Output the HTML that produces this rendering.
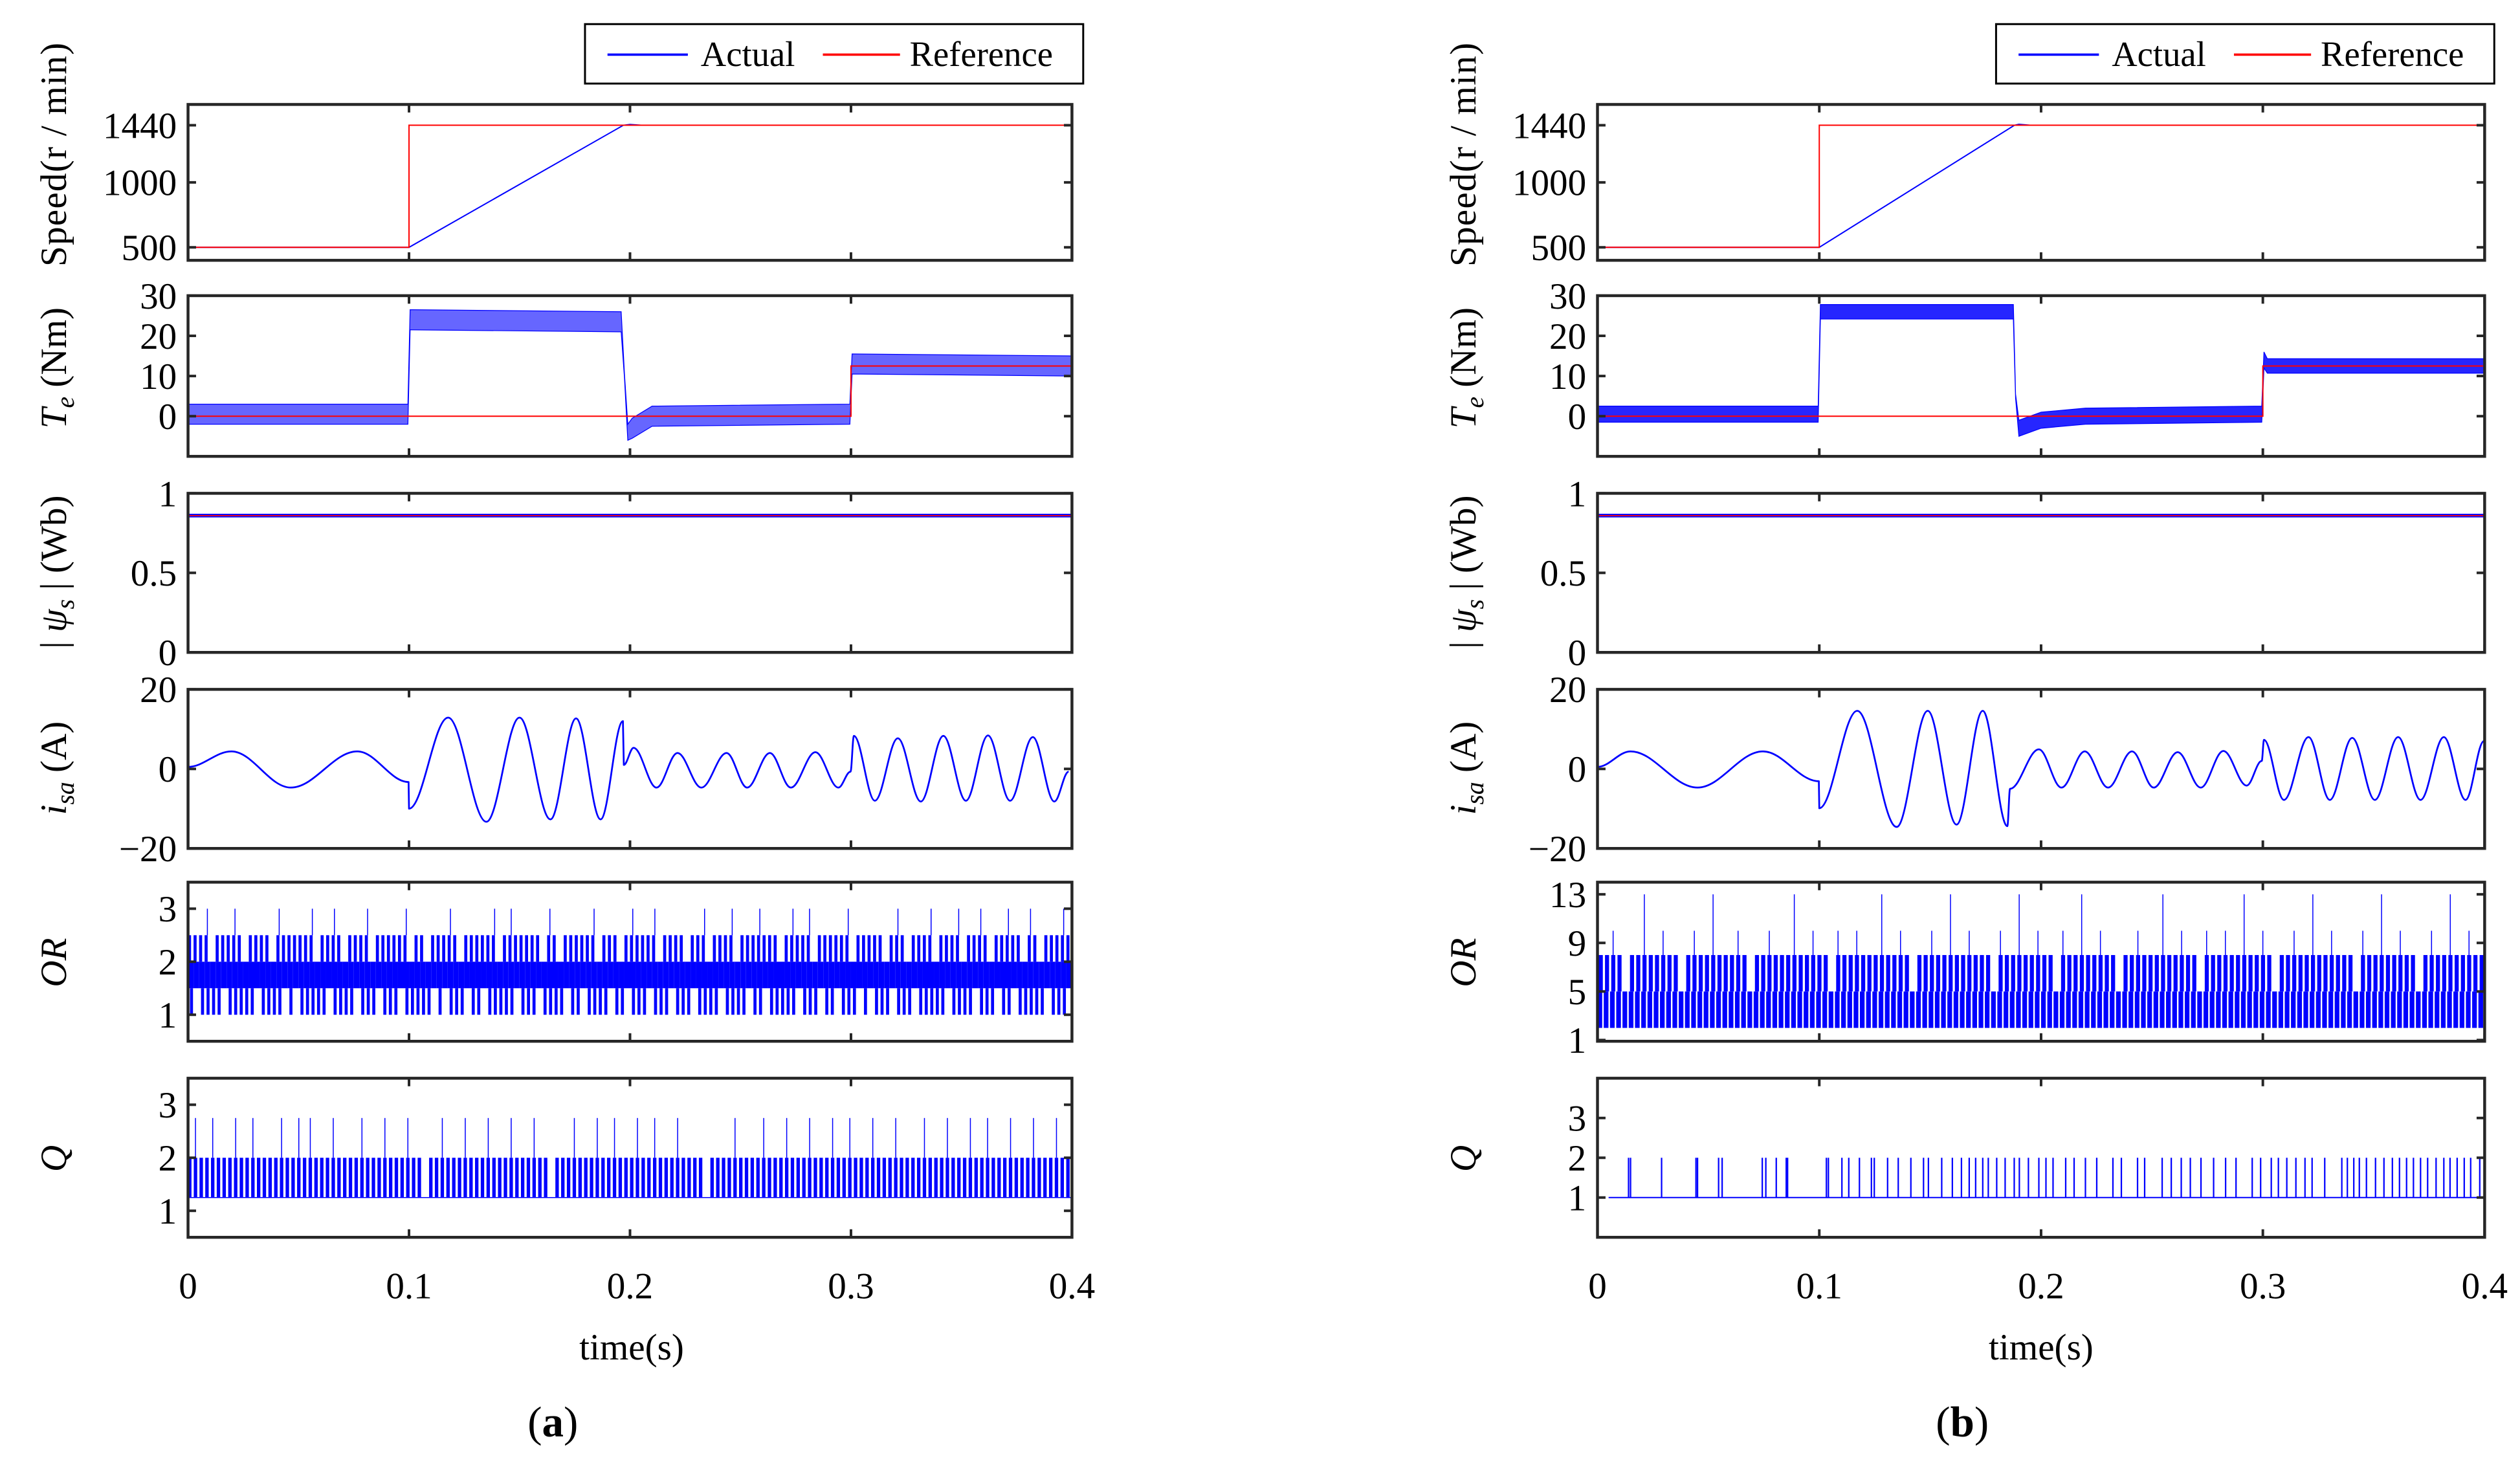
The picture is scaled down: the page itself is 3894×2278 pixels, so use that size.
<!DOCTYPE html>
<html><head><meta charset="utf-8">
<style>
html,body{margin:0;padding:0;background:#fff;}
svg{display:block;}
text{font-family:"Liberation Serif",serif;fill:#000;}
</style></head>
<body>
<svg id="fig" xmlns="http://www.w3.org/2000/svg" width="3894" height="2278" viewBox="0 0 1568 917.3" preserveAspectRatio="none">
<rect x="0" y="0" width="1568" height="917.3" fill="#fff"/>
<g>
<rect x="364" y="15" width="310" height="37" fill="#fff" stroke="#000" stroke-width="1.2"/>
<line x1="378" y1="34" x2="428" y2="34" stroke="#0000ff" stroke-width="1.5"/>
<text x="436" y="41" font-size="22">Actual</text>
<line x1="512" y1="34" x2="560" y2="34" stroke="#ff0000" stroke-width="1.5"/>
<text x="566" y="41" font-size="22">Reference</text>
</g>
<g>
<rect x="1242" y="15" width="310" height="37" fill="#fff" stroke="#000" stroke-width="1.2"/>
<line x1="1256" y1="34" x2="1306" y2="34" stroke="#0000ff" stroke-width="1.5"/>
<text x="1314" y="41" font-size="22">Actual</text>
<line x1="1390" y1="34" x2="1438" y2="34" stroke="#ff0000" stroke-width="1.5"/>
<text x="1444" y="41" font-size="22">Reference</text>
</g>
<g font-size="23">
<text transform="translate(41,96) rotate(-90)" text-anchor="middle" letter-spacing="0.5">Speed(r / min)</text>
<text transform="translate(41,229) rotate(-90)" text-anchor="middle"><tspan font-style="italic">T</tspan><tspan font-style="italic" font-size="16" dy="5">e</tspan><tspan dy="-5"> (Nm)</tspan></text>
<text transform="translate(41,356) rotate(-90)" text-anchor="middle"><tspan>| </tspan><tspan font-style="italic">ψ</tspan><tspan font-style="italic" font-size="16" dy="5">s</tspan><tspan dy="-5"> | (Wb)</tspan></text>
<text transform="translate(41,478) rotate(-90)" text-anchor="middle"><tspan font-style="italic">i</tspan><tspan font-style="italic" font-size="16" dy="5">sa</tspan><tspan dy="-5"> (A)</tspan></text>
<text transform="translate(41,599) rotate(-90)" text-anchor="middle" font-style="italic">OR</text>
<text transform="translate(41,721) rotate(-90)" text-anchor="middle" font-style="italic">Q</text>
</g>
<g font-size="23">
<text transform="translate(918,96) rotate(-90)" text-anchor="middle" letter-spacing="0.5">Speed(r / min)</text>
<text transform="translate(918,229) rotate(-90)" text-anchor="middle"><tspan font-style="italic">T</tspan><tspan font-style="italic" font-size="16" dy="5">e</tspan><tspan dy="-5"> (Nm)</tspan></text>
<text transform="translate(918,356) rotate(-90)" text-anchor="middle"><tspan>| </tspan><tspan font-style="italic">ψ</tspan><tspan font-style="italic" font-size="16" dy="5">s</tspan><tspan dy="-5"> | (Wb)</tspan></text>
<text transform="translate(918,478) rotate(-90)" text-anchor="middle"><tspan font-style="italic">i</tspan><tspan font-style="italic" font-size="16" dy="5">sa</tspan><tspan dy="-5"> (A)</tspan></text>
<text transform="translate(918,599) rotate(-90)" text-anchor="middle" font-style="italic">OR</text>
<text transform="translate(918,721) rotate(-90)" text-anchor="middle" font-style="italic">Q</text>
</g>
<text x="393" y="846" font-size="23" text-anchor="middle">time(s)</text>
<text x="1270" y="846" font-size="23" text-anchor="middle">time(s)</text>
<text x="344" y="894" font-size="27" text-anchor="middle">(<tspan font-weight="bold">a</tspan>)</text>
<text x="1221" y="894" font-size="27" text-anchor="middle">(<tspan font-weight="bold">b</tspan>)</text>
<g id="plots"></g>
</svg>
<script>
const xTicks = [0, 0.1, 0.2, 0.3, 0.4];
const xTickLabels = ["0", "0.1", "0.2", "0.3", "0.4"];
const speedTicks = [500, 1000, 1440];
const teTicks = [0, 10, 20, 30];
const fluxTicks = [0, 0.5, 1];
const fluxTickLabels = ["0", "0.5", "1"];
const isaTicks = [-20, 0, 20];
const isaTickLabels = ["\u221220", "0", "20"];
const orTicksA = [1, 2, 3];
const orTicksB = [1, 5, 9, 13];
const qTicks = [1, 2, 3];

const speedActT_a = [0, 0.1, 0.197, 0.2, 0.205, 0.4];
const speedActV_a = [500, 500, 1440, 1446, 1440, 1440];
const speedActT_b = [0, 0.1, 0.188, 0.19, 0.195, 0.4];
const speedActV_b = [500, 500, 1440, 1447, 1440, 1440];
const speedRefT = [0, 0.1, 0.1, 0.4];
const speedRefV = [500, 500, 1440, 1440];

const teT_a = [0, 0.0995, 0.1005, 0.196, 0.1975, 0.199, 0.201, 0.21, 0.2995, 0.3005, 0.4];
const teMean_a = [0.5, 0.5, 24, 23.5, 10, -4, -3, 0, 0.5, 13, 12.5];
const teHalf_a = [2.5, 2.5, 2.5, 2.5, 0.5, 2, 2.5, 2.5, 2.5, 2.5, 2.5];
const teT_b = [0, 0.0995, 0.1005, 0.1875, 0.1885, 0.19, 0.2, 0.22, 0.2995, 0.3005, 0.302, 0.4];
const teMean_b = [0.5, 0.5, 26, 26, 5, -3, -1, 0, 0.5, 14, 12.5, 12.5];
const teHalf_b = [2, 2, 1.8, 1.8, 0.5, 2, 2, 2, 2, 2, 1.8, 1.8];
const teRefT = [0, 0.3, 0.3, 0.4];
const teRefV = [0, 0, 12.5, 12.5];

const fluxT = [0, 0.4];
const fluxMean = [0.86, 0.86];
const fluxHalf = [0.009, 0.009];

const isaT_a = [0,0.0196,0.0465,0.0766,0.0998,0.1,0.1177,0.135,0.150,0.164,0.1756,0.1867,0.1968,0.1972,0.2016,0.212,0.2215,0.2323,0.2437,0.253,0.2633,0.2728,0.2839,0.2943,0.2998,0.3013,0.3108,0.3212,0.3316,0.3418,0.352,0.362,0.372,0.3823,0.392,0.3985];
const isaV_a = [0.5,4.4,-4.7,4.4,-3.3,-10,12.9,-13.3,12.9,-12.7,12.7,-12.7,12,1,5.3,-4.7,4,-4.7,4,-4.7,4,-4.7,4.2,-4.7,-0.7,8.3,-8,7.7,-8.2,8.3,-8,8.4,-8,8,-8.2,-0.7];
const isaT_b = [0,0.0149,0.0451,0.0746,0.0998,0.1,0.1171,0.1349,0.1489,0.1619,0.1737,0.1848,0.186,0.199,0.2092,0.2197,0.2302,0.241,0.2508,0.2616,0.272,0.2822,0.2927,0.2995,0.3005,0.3095,0.3206,0.3302,0.3403,0.3505,0.361,0.3711,0.3816,0.3914,0.3997];
const isaV_b = [0.5,4.4,-4.7,4.4,-3.1,-9.9,14.6,-14.6,14.6,-14,14.6,-14.4,-5,4.9,-4.7,4.4,-4.7,4.4,-4.7,4.2,-4.7,4.5,-4.2,2,7.3,-7.8,8,-7.8,7.8,-7.8,8,-7.8,8,-7.8,7];

const orCodes_a = "3134231343231332413133423143231342133314233213143213313423413331243213313423132143314231332134231342313413323413421331342131332143213342313423143213413243213341";
const qCodes_a = "1211211121121111211212111211112111211121101121112111211121112110111211121121112112111211110111121111211121112111211211121112111121112111211211121112111211";
const orCodes_b = "0020100300200102003000201002000300200120020003002010020030020001200300200120030020010020003002001200200300201002003002000120030020010200300200";
const qSpikes_b = [0.0140,0.0149,0.0289,0.0444,0.0451,0.0546,0.0562,0.0743,0.0759,0.0806,0.0851,0.0857,0.1032,0.1041,0.1102,0.1133,0.1181,0.1235,0.1248,0.1308,0.1356,0.1413,0.1470,0.1492,0.1552,0.1600,0.1641,0.1676,0.1705,0.1737,0.1762,0.1800,0.1838,0.1879,0.1902,0.1943,0.1990,0.2022,0.2054,0.2111,0.2149,0.2200,0.2251,0.2324,0.2362,0.2435,0.2467,0.2546,0.2587,0.2632,0.2673,0.2721,0.2778,0.2832,0.2879,0.2952,0.2990,0.3038,0.3070,0.3108,0.3149,0.3190,0.3222,0.3279,0.3356,0.3381,0.3410,0.3435,0.3467,0.3508,0.3546,0.3584,0.3616,0.3648,0.3679,0.3711,0.3743,0.3781,0.3816,0.3844,0.3876,0.3908,0.3937,0.3978];

const NS = "http://www.w3.org/2000/svg";
const root = document.getElementById("plots");
const BLUE = "#0000ff", RED = "#ff0000", AX = "#262626";

function add(parent, tag, attrs, name) {
  const el = document.createElementNS(NS, tag);
  for (const k in attrs) el.setAttribute(k, attrs[k]);
  
  
  parent.appendChild(el);
  return el;
}

const panels = { a: { x0: 117, x1: 667 }, b: { x0: 994, x1: 1546 } };
const rowBox = [[65,162],[184,284],[307,406],[429,528],[549,648],[671,770]];

function makeAxes(p, row, ymin, ymax) {
  const P = panels[p];
  return {
    sx: t => P.x0 + t / 0.4 * (P.x1 - P.x0),
    sy: v => rowBox[row][1] - (v - ymin) / (ymax - ymin) * (rowBox[row][1] - rowBox[row][0]),
    x0: P.x0, x1: P.x1, y0: rowBox[row][0], y1: rowBox[row][1]
  };
}

function frame(g, ax, yt, ylabels, showX, p) {
  for (let i = 0; i < yt.length; i++) {
    const y = ax.sy(yt[i]);
    add(g, "line", {x1: ax.x0, y1: y, x2: ax.x0 + 5, y2: y, stroke: AX, "stroke-width": 1.6}, "y-tick-left");
    add(g, "line", {x1: ax.x1, y1: y, x2: ax.x1 - 5, y2: y, stroke: AX, "stroke-width": 1.6}, "y-tick-right");
    const t = add(g, "text", {x: ax.x0 - 7, y: y + 8, "font-size": 23, "text-anchor": "end"}, "y-tick-label");
    t.textContent = ylabels[i];
  }
  for (let i = 0; i < xTicks.length; i++) {
    const x = ax.sx(xTicks[i]);
    add(g, "line", {x1: x, y1: ax.y0, x2: x, y2: ax.y0 + 5, stroke: AX, "stroke-width": 1.6}, "x-tick-top");
    add(g, "line", {x1: x, y1: ax.y1, x2: x, y2: ax.y1 - 5, stroke: AX, "stroke-width": 1.6}, "x-tick-bottom");
    if (showX) {
      const t = add(g, "text", {x: x, y: 808, "font-size": 23, "text-anchor": "middle"}, "x-tick-label");
      t.textContent = xTickLabels[i];
    }
  }
  add(g, "rect", {x: ax.x0, y: ax.y0, width: ax.x1 - ax.x0, height: ax.y1 - ax.y0, fill: "none", stroke: AX, "stroke-width": 1.8}, "axes-box-" + p);
}

function polyline(g, ax, T, V, color, w, name) {
  const pts = T.map((t, i) => ax.sx(t).toFixed(2) + "," + ax.sy(V[i]).toFixed(2)).join(" ");
  add(g, "polyline", {points: pts, fill: "none", stroke: color, "stroke-width": w}, name);
}

function band(g, ax, T, M, H, name, op) {
  const top = T.map((t, i) => ax.sx(t).toFixed(2) + "," + ax.sy(M[i] + H[i]).toFixed(2));
  const bot = T.map((t, i) => ax.sx(t).toFixed(2) + "," + ax.sy(M[i] - H[i]).toFixed(2)).reverse();
  add(g, "polygon", {points: top.concat(bot).join(" "), fill: BLUE, "fill-opacity": op, stroke: BLUE, "stroke-width": 0.5}, name);
}

function smooth(g, ax, T, V, name) {
  let d = "M" + ax.sx(T[0]).toFixed(2) + "," + ax.sy(V[0]).toFixed(2);
  for (let i = 1; i < T.length; i++) {
    const xa = ax.sx(T[i-1]), ya = ax.sy(V[i-1]), xb = ax.sx(T[i]), yb = ax.sy(V[i]);
    const dx = xb - xa;
    if (dx < 1.2) { d += " L" + xb.toFixed(2) + "," + yb.toFixed(2); continue; }
    d += " C" + (xa + dx * 0.36).toFixed(2) + "," + ya.toFixed(2) + " " + (xb - dx * 0.36).toFixed(2) + "," + yb.toFixed(2) + " " + xb.toFixed(2) + "," + yb.toFixed(2);
  }
  add(g, "path", {d: d, fill: "none", stroke: BLUE, "stroke-width": 1.1, "stroke-linejoin": "round"}, name);
}

function vrect(g, ax, xl, w, v1, v2, name) {
  const ya = ax.sy(v2), yb = ax.sy(v1);
  add(g, "rect", {x: xl.toFixed(2), y: ya.toFixed(2), width: w.toFixed(2), height: (yb - ya).toFixed(2), fill: BLUE}, name);
}
function vline(g, ax, x, v1, v2, name, w) {
  add(g, "line", {x1: x.toFixed(2), y1: ax.sy(v1).toFixed(2), x2: x.toFixed(2), y2: ax.sy(v2).toFixed(2), stroke: BLUE, "stroke-width": w || 0.6}, name);
}

function drawPanel(p) {
  const g = add(root, "g", {}, "panel-" + p);
  const isA = p === "a";
  let ax = makeAxes(p, 0, 400, 1600);
  let sg = add(g, "g", {}, "speed-plot-" + p);
  polyline(sg, ax, isA ? speedActT_a : speedActT_b, isA ? speedActV_a : speedActV_b, BLUE, 0.8, "speed-actual");
  polyline(sg, ax, speedRefT, speedRefV, RED, 0.8, "speed-reference");
  frame(sg, ax, speedTicks, speedTicks.map(String), false, p);

  ax = makeAxes(p, 1, -10, 30);
  sg = add(g, "g", {}, "torque-plot-" + p);
  if (isA) band(sg, ax, teT_a, teMean_a, teHalf_a, "torque-actual", 0.6);
  else band(sg, ax, teT_b, teMean_b, teHalf_b, "torque-actual", 0.85);
  polyline(sg, ax, teRefT, teRefV, RED, 0.8, "torque-reference");
  frame(sg, ax, teTicks, teTicks.map(String), false, p);

  ax = makeAxes(p, 2, 0, 1);
  sg = add(g, "g", {}, "flux-plot-" + p);
  band(sg, ax, fluxT, fluxMean, fluxHalf, "flux-actual", 0.9);
  polyline(sg, ax, fluxT, fluxMean, RED, 0.7, "flux-reference");
  frame(sg, ax, fluxTicks, fluxTickLabels, false, p);

  ax = makeAxes(p, 3, -20, 20);
  sg = add(g, "g", {}, "current-plot-" + p);
  smooth(sg, ax, isA ? isaT_a : isaT_b, isA ? isaV_a : isaV_b, "current-trace");
  frame(sg, ax, isaTicks, isaTickLabels, false, p);

  if (isA) {
    ax = makeAxes(p, 4, 0.5, 3.5);
    sg = add(g, "g", {}, "or-plot-a");
    const n = orCodes_a.length, bw = 0.4 / n;
    for (let i = 0; i < n; i++) {
      const c = +orCodes_a[i];
      const xl = ax.sx(i * bw), w = ax.sx((i + 1) * bw) - xl;
      vrect(sg, ax, xl, w, 1.5, 2, "or-core-bin");
      if (c === 1 || c >= 3) vrect(sg, ax, xl, w * 0.55, 2, 2.5, "or-up-bin");
      if (c >= 2) vrect(sg, ax, xl + w * 0.35, w * 0.55, 1, 1.5, "or-down-bin");
      if (c === 4) vline(sg, ax, xl + w * 0.5, 2.5, 3, "or-spike", 0.6);
    }
    frame(sg, ax, orTicksA, orTicksA.map(String), false, p);
  } else {
    ax = makeAxes(p, 4, 0.9, 14);
    sg = add(g, "g", {}, "or-plot-b");
    const n = orCodes_b.length, bw = 0.4 / n;
    for (let i = 0; i < n; i++) {
      const c = +orCodes_b[i];
      const xl = ax.sx(i * bw), w = ax.sx((i + 1) * bw) - xl;
      vrect(sg, ax, xl, w * 0.75, 2, 5, "or-low-bin");
      if (c !== 1) vrect(sg, ax, xl + w * 0.2, w * 0.65, 5, 8, "or-mid-bin");
      if (c === 2) vline(sg, ax, xl + w * 0.5, 8, 10, "or-spike", 0.6);
      if (c === 3) vline(sg, ax, xl + w * 0.5, 8, 13, "or-spike", 0.6);
    }
    frame(sg, ax, orTicksB, orTicksB.map(String), false, p);
  }

  if (isA) {
    ax = makeAxes(p, 5, 0.5, 3.5);
    sg = add(g, "g", {}, "q-plot-a");
    const n = qCodes_a.length, bw = 0.4 / n;
    add(sg, "line", {x1: ax.sx(0), y1: ax.sy(1.25), x2: ax.sx(0.4), y2: ax.sy(1.25), stroke: BLUE, "stroke-width": 0.6}, "q-baseline");
    for (let i = 0; i < n; i++) {
      const c = +qCodes_a[i];
      const xl = ax.sx(i * bw), w = ax.sx((i + 1) * bw) - xl;
      if (c >= 1) vrect(sg, ax, xl, w * 0.6, 1.25, 2, "q-bin");
      if (c === 2) vline(sg, ax, xl + w * 0.3, 2, 2.75, "q-spike", 0.6);
    }
    frame(sg, ax, qTicks, qTicks.map(String), true, p);
  } else {
    ax = makeAxes(p, 5, 0, 4);
    sg = add(g, "g", {}, "q-plot-b");
    add(sg, "line", {x1: ax.sx(0.005), y1: ax.sy(1), x2: ax.sx(0.398), y2: ax.sy(1), stroke: BLUE, "stroke-width": 0.8}, "q-baseline");
    for (let i = 0; i < qSpikes_b.length; i++) {
      vline(sg, ax, ax.sx(qSpikes_b[i]), 1, 2, "q-spike", 0.9);
    }
    frame(sg, ax, qTicks, qTicks.map(String), true, p);
  }
}
drawPanel("a");
drawPanel("b");
</script>
</body></html>
